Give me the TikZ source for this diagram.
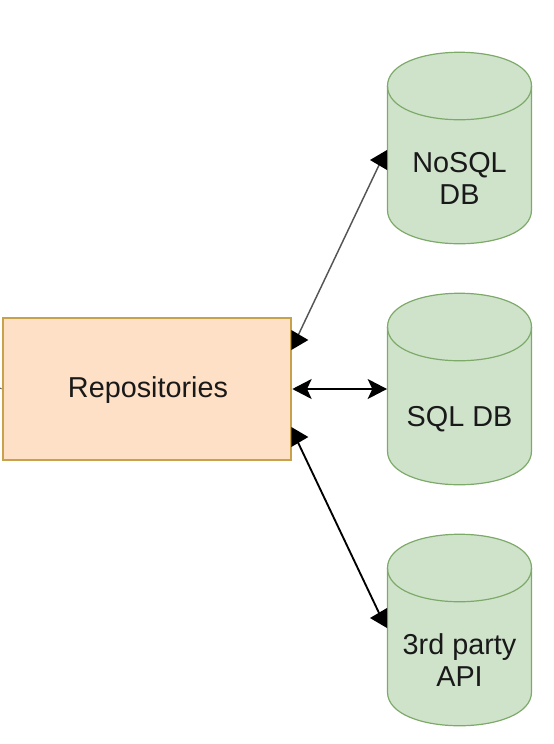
\documentclass[tikz,border=0pt]{standalone}
\usepackage{fontspec}
\setmainfont{Liberation Sans}
\usetikzlibrary{arrows.meta,calc}
\definecolor{repofill}{RGB}{253,224,198}
\definecolor{repoline}{RGB}{200,162,75}
\definecolor{dbfill}{RGB}{207,227,203}
\definecolor{dbline}{RGB}{125,170,105}
\definecolor{labeltext}{RGB}{25,25,25}
\definecolor{thinlink}{RGB}{85,85,85}
\newcommand{\lefthead}[1]{\fill (#1) ++(0,-10) -- ++(-17,10) -- ++(17,10) -- cycle;}
\newcommand{\righthead}[1]{\fill (#1) ++(0,-10) -- ++(17,10) -- ++(-17,10) -- cycle;}
\tikzset{every picture/.style={line width=0.75pt},
  labeltxt/.style={text=labeltext,align=center,font=\fontsize{21.6}{24}\selectfont},
  repobox/.style={draw=repoline,fill=repofill,line width=1.5pt,minimum width=216.5pt,minimum height=107pt,inner sep=0pt},
  dbbox/.style={minimum width=108pt,minimum height=144pt,inner sep=0pt},
  dbshape/.style={draw=dbline,fill=dbfill,line width=0.9pt},
  link/.style={line width=1.1pt},
  linkboth/.style={line width=1.1pt,{Stealth[length=14.5pt,width=15pt,inset=3.5pt]}-{Stealth[length=14.5pt,width=15pt,inset=3.5pt]}}}
\begin{document}
\begin{tikzpicture}[x=0.75pt,y=0.75pt,yscale=-1,xscale=1]
\useasboundingbox (0,0) rectangle (554,744);
% Repositories box
\node[repobox] (repo) at (147,389) {};
\node[labeltxt] (repolabel) at (148,390) {Repositories};
\coordinate (repostub) at (0,388);
\draw[thinlink,line width=0.6pt] (repostub) -- (repo.west);
% Cylinders
\foreach \name/\cy/\txt in {nosql/148/{NoSQL\\DB},sql/389/{SQL DB},api/630/{3rd party\\API}}{
  \begin{scope}[shift={(459.5,\cy)}]
    \draw[dbshape] (-72,-62) .. controls (-72,-107) and (72,-107) .. (72,-62) -- (72,62) .. controls (72,107) and (-72,107) .. (-72,62) -- cycle;
    \draw[dbshape,fill=none] (-72,-62) .. controls (-72,-17) and (72,-17) .. (72,-62);
    \node[dbbox] (\name) at (0,0) {};
    \node[labeltxt] (\name label) at (0,30.5) {\txt};
  \end{scope}
}
% Connectors
\coordinate (repoa) at ($(repo.east)+(5,-52)$);
\coordinate (repoc) at ($(repo.east)+(5,52)$);
\coordinate (nosqlw) at ($(nosql.west)+(-7,15)$);
\coordinate (apiw) at ($(api.west)+(-7,-15)$);
\draw[link,thinlink] (repoa) -- (nosqlw);
\draw[linkboth] (repo.east) -- (sql.west);
\draw[link,line width=1.4pt] (repoc) -- (apiw);
% Arrow heads
\coordinate (heada) at ($(nosql.west)+(0,12)$);
\coordinate (headb) at ($(repo.east)+(-1,-49)$);
\coordinate (headc) at ($(repo.east)+(-1,48)$);
\coordinate (headd) at ($(api.west)+(0,-12)$);
\lefthead{heada}
\righthead{headb}
\righthead{headc}
\lefthead{headd}
\end{tikzpicture}
\end{document}
